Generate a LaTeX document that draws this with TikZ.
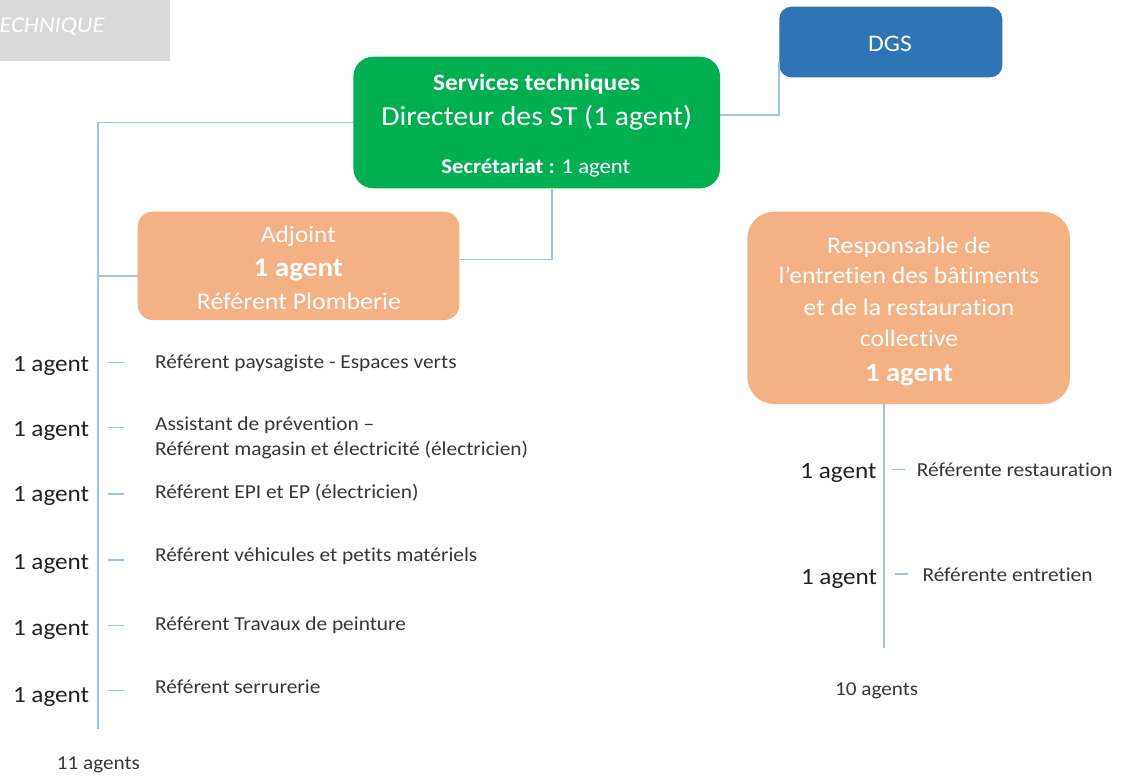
\documentclass[tikz,border=0pt]{standalone}
\usepackage{fontspec}
\setmainfont{Carlito}[FakeStretch=1.08, Ligatures=NoCommon]
\newcommand\fsz[1]{\fontsize{#1}{#1}\selectfont}

\definecolor{stgreen}{HTML}{00B050}
\definecolor{dgsblue}{HTML}{2E75B6}
\definecolor{peach}{HTML}{F4B183}
\definecolor{hdrgray}{HTML}{D9D9D9}
\definecolor{linec}{HTML}{9DC3E6}
\definecolor{darktxt}{HTML}{202020}
\definecolor{listtxt}{HTML}{363636}

\begin{document}
\begin{tikzpicture}[x=1pt,y=-1pt,
  orgbox/.style={inner sep=0pt, draw=none},
  txt/.style={inner sep=0pt, anchor=base},
  wtxt/.style={txt, text=white},
  link/.style={draw=linec, line width=1.7pt},
  tick/.style={draw=linec, line width=1.4pt},
  agentlbl/.style={inner sep=0pt, anchor=base east, text=darktxt, font=\fsz{23.3}},
  reflbl/.style={inner sep=0pt, anchor=base west, text=listtxt, font=\fsz{19.8}},
  totallbl/.style={inner sep=0pt, anchor=base west, text=listtxt, font=\fsz{19.6}}]

\useasboundingbox (0,0) rectangle (1127,780);

% header tab
\node[orgbox, fill=hdrgray, minimum width=170pt, minimum height=61pt, anchor=north west] (hdr) at (0,0) {};
\node[inner sep=0pt, anchor=base west, text=white, font=\itshape\fsz{22.5}] (hdrtxt) at (-0.5,32.3) {ECHNIQUE};

% boxes
\node[orgbox, fill=dgsblue, rounded corners=12pt, minimum width=223pt, minimum height=70.6pt] (dgs) at (890.8,42) {};
\node[wtxt, font=\fsz{23.7}] (dgstxt) at (890,51.7) {DGS};

\node[orgbox, fill=stgreen, rounded corners=20pt, minimum width=366.7pt, minimum height=131.6pt] (st) at (536.7,122.5) {};
\node[wtxt, font=\bfseries\fsz{23.5}] (st1) at (536.7,90.7) {Services techniques};
\node[wtxt, font=\fsz{27.5}] (st2) at (536.7,125) {Directeur des ST (1 agent)};
\node[wtxt, font=\fsz{21}] (st3) at (535.8,173.3) {\textbf{Secrétariat :} 1 agent};

\node[orgbox, fill=peach, rounded corners=15pt, minimum width=321.6pt, minimum height=108.3pt] (adj) at (298.5,265.85) {};
\node[wtxt, font=\fsz{23.5}] (adj1) at (298.4,242.7) {Adjoint};
\node[wtxt, font=\bfseries\fsz{27}] (adj2) at (298.3,276) {1 agent};
\node[wtxt, font=\fsz{24}] (adj3) at (298.9,309.3) {Référent Plomberie};

\node[orgbox, fill=peach, rounded corners=27pt, minimum width=322.7pt, minimum height=192.3pt] (resp) at (908.7,307.85) {};
\node[wtxt, font=\fsz{23.8}] (resp1) at (909,253.3) {Responsable de};
\node[wtxt, font=\fsz{23.8}] (resp2) at (909,283.3) {l\textquoteright entretien des bâtiments};
\node[wtxt, font=\fsz{23.8}] (resp3) at (909,315) {et de la restauration};
\node[wtxt, font=\fsz{23.8}] (resp4) at (909,346.7) {collective};
\node[wtxt, font=\bfseries\fsz{26.5}] (resp5) at (909,381.7) {1 agent};

% connectors
\coordinate (dgsin) at ([yshift=-20pt]dgs.west);
\draw[link] ([yshift=7.5pt]st.east) -| (dgsin);
\coordinate (lbot) at (97.7,729.3);
\draw[link] (st.west) -| (lbot);
\draw[link] ([yshift=-10pt]adj.west) -- ([yshift=-10pt]adj.west -| lbot);
\draw[link] ([yshift=6.5pt]adj.east) -| ([xshift=15.6pt]st.south);
\coordinate (rbot) at (884.3,648.3);
\draw[link] (resp.south -| rbot) -- (rbot);

% left team
\foreach \n/\ya/\yd/\yt/\lbl in {
  1/371/362.7/368.3/{Référent paysagiste - Espaces verts},
  3/501.7/494/498.3/{Référent EPI et EP (électricien)},
  4/569/560/561.7/{Référent véhicules et petits matériels},
  5/635/625.7/630/{Référent Travaux de peinture},
  6/702.7/690.7/693.3/{Référent serrurerie}} {
  \node[agentlbl] (la\n) at (89.3,\ya) {1 agent};
  \draw[tick] (108,\yd) -- (124,\yd);
  \node[reflbl] (lr\n) at (155,\yt) {\lbl};
}
\node[agentlbl] (la2) at (89.3,436.7) {1 agent};
\draw[tick] (108,427.3) -- (124,427.3);
\node[reflbl] (lr2a) at (155,430.7) {Assistant de prévention –};
\node[reflbl] (lr2b) at (155,455) {Référent magasin et électricité (électricien)};
\node[totallbl] (ltot) at (56.7,769.3) {11 agents};

% right team
\node[agentlbl] (ra1) at (876.7,478.3) {1 agent};
\draw[tick] (891.7,469.3) -- (905,469.3);
\node[reflbl] (rr1) at (916.7,476.7) {Référente restauration};
\node[agentlbl] (ra2) at (877.3,584.3) {1 agent};
\draw[tick] (895,574) -- (908,574);
\node[reflbl] (rr2) at (922.3,581.7) {Référente entretien};
\node[totallbl] (rtot) at (835,695) {10 agents};

\end{tikzpicture}
\end{document}
